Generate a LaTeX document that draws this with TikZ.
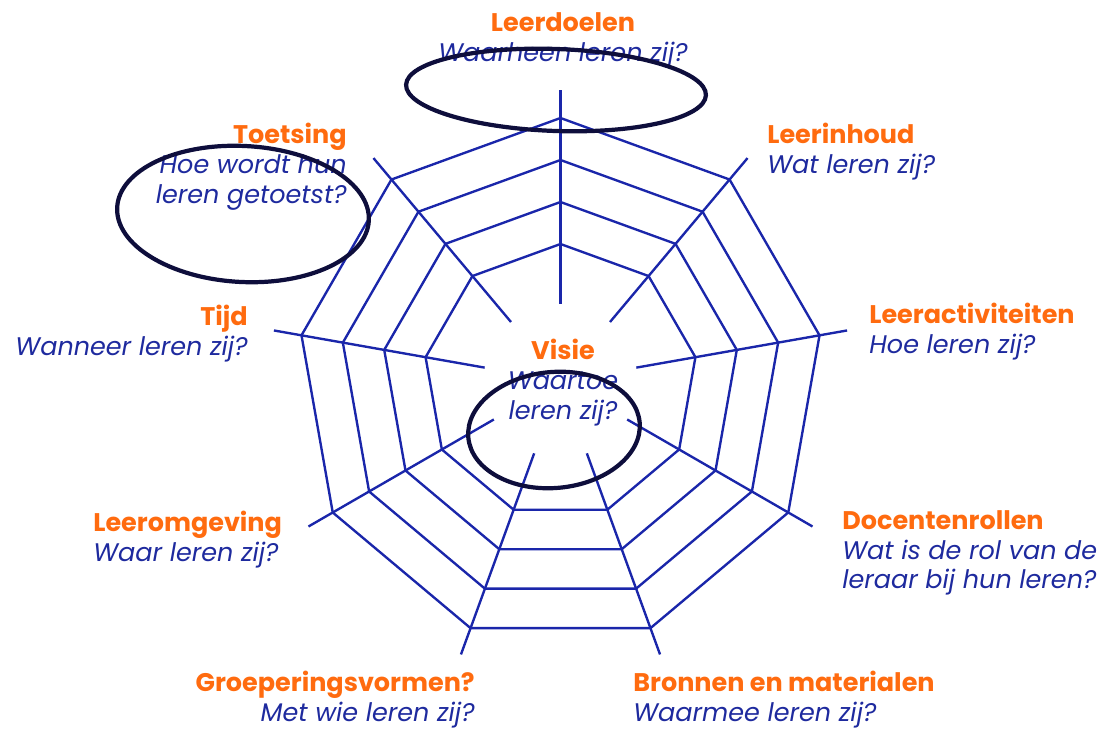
\documentclass[tikz,border=0pt]{standalone}
\usepackage{fontspec}
\setmainfont{Poppins}
\usepackage{xcolor}
\usetikzlibrary{positioning}

\definecolor{oranje}{HTML}{FF6B0F}
\definecolor{webblauw}{HTML}{1A26AA}
\definecolor{vraagblauw}{HTML}{1E2A9E}
\definecolor{inkt}{HTML}{0E0E3C}

\tikzset{
  web/.style={draw=webblauw, line width=1.35pt, line join=miter},
  onderwerp/.style={inner sep=0pt, align=#1, text=vraagblauw,
    font=\fontsize{14.5}{17}\selectfont\itshape},
  cirkel/.style={draw=inkt, line width=2.4pt}
}
\newcommand{\titel}[1]{{\color{oranje}\upshape\bfseries #1}}

\begin{document}
\begin{tikzpicture}
\useasboundingbox (0,0) rectangle (21.94,14.58);
\coordinate (c) at (11.21,6.96);

% spinnenweb
\begin{scope}[shift={(c)}]
\foreach \r in {2.74,3.58,4.42,5.26}
  \draw[web] (90:\r) \foreach \a in {50,10,...,-230} {-- (\a:\r)} -- cycle;
\foreach \a in {90,50,...,-230}
  \draw[web] (\a:1.54) -- (\a:5.82);
\end{scope}

% draden
\node[onderwerp=center, anchor=north] (visie) at (11.26,7.80) {\titel{Visie}\\ Waartoe\\ leren zij?};
\node[onderwerp=center, anchor=north] (doelen) at (11.26,14.34) {\titel{Leerdoelen}\\ Waarheen leren zij?};
\node[onderwerp=left, anchor=north west] (inhoud) at (15.34,12.12) {\titel{Leerinhoud}\\ Wat leren zij?};
\node[onderwerp=left, anchor=north west] (activiteiten) at (17.38,8.52) {\titel{Leeractiviteiten}\\ Hoe leren zij?};
\node[onderwerp=left, anchor=north west] (rollen) at (16.84,4.38) {\titel{Docentenrollen}\\ Wat is de rol van de\\ leraar bij hun leren?};
\node[onderwerp=left, anchor=north west] (bronnen) at (12.66,1.17) {\titel{Bronnen en materialen}\\ Waarmee leren zij?};
\node[onderwerp=right, anchor=north east] (groepering) at (9.50,1.17) {\titel{Groeperingsvormen?}\\ Met wie leren zij?};
\node[onderwerp=left, anchor=north west] (omgeving) at (1.86,4.36) {\titel{Leeromgeving}\\ Waar leren zij?};
\node[onderwerp=right, anchor=north east] (tijd) at (4.96,8.48) {\titel{Tijd}\\ Wanneer leren zij?};
\node[onderwerp=right, anchor=north east] (toetsing) at (6.94,12.12) {\titel{Toetsing}\\ Hoe wordt hun\\ leren getoetst?};

% omcirkeld
\draw[cirkel, rotate around={-2:(11.12,12.78)}] (11.12,12.78) ellipse (3.0 and 0.82);
\draw[cirkel, rotate around={-3:(4.86,10.30)}] (4.86,10.30) ellipse (2.52 and 1.36);
\draw[cirkel, rotate around={5:(11.08,5.98)}] (11.08,5.98) ellipse (1.72 and 1.16);
\end{tikzpicture}
\end{document}
